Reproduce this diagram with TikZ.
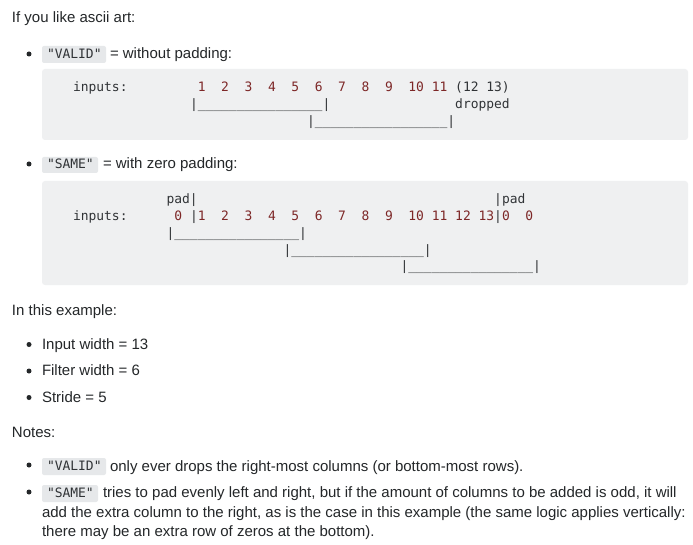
\documentclass[tikz,border=0pt]{standalone}
\usepackage{fontspec}
\setmainfont{Liberation Sans}
\setmonofont{DejaVu Sans Mono}
\definecolor{txt}{HTML}{242729}
\definecolor{codetxt}{HTML}{303336}
\definecolor{codebg}{HTML}{EFF0F1}
\definecolor{inlinebg}{HTML}{E6E8EA}
\definecolor{lit}{HTML}{7D2727}
\def\uf{\_\_\_\_}
\begin{document}
\begin{tikzpicture}[x=1pt,y=-1pt,
  para/.style={anchor=base west,inner sep=0pt,outer sep=0pt,text=txt,font=\fontsize{15}{19.5}\selectfont},
  code/.style={anchor=base west,inner sep=0pt,outer sep=0pt,text=codetxt,font=\fontsize{12.95}{16}\selectfont\ttfamily},
  num/.style={code,text=lit},
  block/.style={fill=codebg,rounded corners=3pt},
  ibox/.style={fill=inlinebg,rounded corners=2pt},
  bullet/.style={circle,fill=txt,inner sep=0pt,minimum size=5pt}
]
\useasboundingbox (0,0) rectangle (693,545);
\fill[white] (0,0) rectangle (693,545);

% ---------- intro ----------
\node[para] (intro) at (12,23) {If you like ascii art:};

% ---------- bullet VALID ----------
\node[bullet] (b1) at (29,54) {};
\fill[ibox] (42,46) rectangle (106,63);
\node[code] (cv1) at (47,58.5) {"VALID"};
\node[para] (tv1) at (110,58.5) {= without padding:};

\fill[block] (42,69) rectangle (688,140);
\node[code] (in1) at (73,92) {inputs:};
\foreach \n [count=\k from 0] in {1,2,3,4,5,6,7,8,9,10,11}
  \node[num] (va\n) at ({73+(16+3*\k)*7.8},92) {\n};
\node[code] (drop13) at ({73+49*7.8},92) {(12 13)};
\node[code] (vbr1) at ({73+15*7.8},108.7) {|\uf\uf\uf\uf|};
\node[code] (dropped) at ({73+49*7.8},108.7) {dropped};
\node[code] (vbr2) at ({73+30*7.8},125.4) {|\uf\uf\uf\uf\_|};

% ---------- bullet SAME ----------
\node[bullet] (b2) at (29,164) {};
\fill[ibox] (42,157) rectangle (98,173);
\node[code] (cs1) at (47,169) {"SAME"};
\node[para] (ts1) at (103,169) {= with zero padding:};

\fill[block] (42,181) rectangle (688,285);
\node[code] (padl) at ({73+12*7.8},204) {pad|};
\node[code] (padr) at ({73+54*7.8},204) {|pad};
\node[code] (in2) at (73,220.7) {inputs:};
\node[num] (z1) at ({73+13*7.8},220.7) {0};
\node[code] (p1) at ({73+15*7.8},220.7) {|};
\foreach \n [count=\k from 0] in {1,2,3,4,5,6,7,8,9,10,11,12,13}
  \node[num] (sa\n) at ({73+(16+3*\k)*7.8},220.7) {\n};
\node[code] (p2) at ({73+54*7.8},220.7) {|};
\node[num] (z2) at ({73+55*7.8},220.7) {0};
\node[num] (z3) at ({73+58*7.8},220.7) {0};
\node[code] (sbr1) at ({73+12*7.8},237.4) {|\uf\uf\uf\uf|};
\node[code] (sbr2) at ({73+27*7.8},254.1) {|\uf\uf\uf\uf\_|};
\node[code] (sbr3) at ({73+42*7.8},270.8) {|\uf\uf\uf\uf|};

% ---------- example ----------
\node[para] (ex) at (12,315) {In this example:};
\node[bullet] (b3) at (29,344.5) {};
\node[para] (e1) at (42,349) {Input width = 13};
\node[bullet] (b4) at (29,371) {};
\node[para] (e2) at (42,375.5) {Filter width = 6};
\node[bullet] (b5) at (29,397.5) {};
\node[para] (e3) at (42,402) {Stride = 5};

% ---------- notes ----------
\node[para] (notes) at (12,437) {Notes:};
\node[bullet] (b6) at (29,465) {};
\fill[ibox] (42,458) rectangle (106,475);
\node[code] (cv2) at (47,470.5) {"VALID"};
\node[para] (n1) at (110,471) {only ever drops the right-most columns (or bottom-most rows).};
\node[bullet] (b7) at (29,492) {};
\fill[ibox] (42,485) rectangle (98,502);
\node[code] (cs2) at (47,497.5) {"SAME"};
\node[para] (n2a) at (103,497.5) {tries to pad evenly left and right, but if the amount of columns to be added is odd, it will};
\node[para] (n2b) at (42,517) {add the extra column to the right, as is the case in this example (the same logic applies vertically:};
\node[para] (n2c) at (42,536.5) {there may be an extra row of zeros at the bottom).};
\end{tikzpicture}
\end{document}
